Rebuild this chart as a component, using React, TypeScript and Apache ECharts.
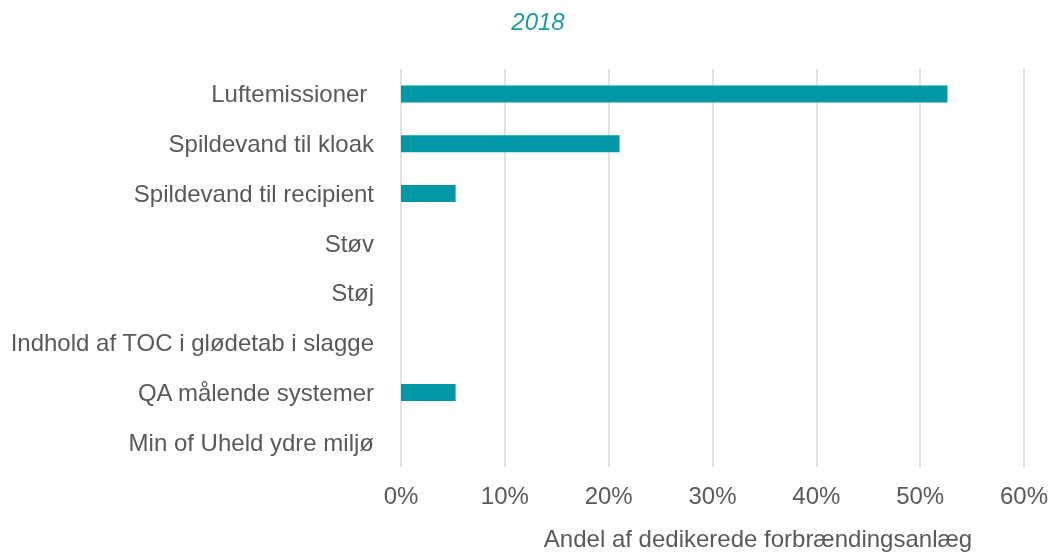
import React, { useEffect, useRef } from "react";
import * as echarts from "echarts";

const categories = [
  "Luftemissioner ",
  "Spildevand til kloak",
  "Spildevand til recipient",
  "Støv",
  "Støj",
  "Indhold af TOC i glødetab i slagge",
  "QA målende systemer",
  "Min of Uheld ydre miljø",
];
const values = [52.63, 21.05, 5.26, 0, 0, 0, 5.26, 0];
const titleText = "2018";
const axisName = "Andel af dedikerede forbrændingsanlæg";

export default function App() {
  const ref = useRef<HTMLDivElement>(null);
  useEffect(() => {
    if (!ref.current) return;
    const chart = echarts.init(ref.current, undefined, { renderer: "svg" });
    const font = "'Liberation Sans', Arial, sans-serif";
    chart.setOption({
      animation: false,
      title: {
        text: titleText,
        left: 533,
        top: 4,
        textAlign: "center",
        textStyle: {
          color: "#1a9ba8",
          fontStyle: "italic",
          fontWeight: "normal",
          fontSize: 24,
          fontFamily: font,
        },
      },
      grid: { left: 401, right: 28, top: 69, bottom: 85, containLabel: false },
      xAxis: {
        type: "value",
        min: 0,
        max: 60,
        interval: 10,
        axisLine: { show: false },
        axisTick: { show: false },
        axisLabel: {
          formatter: "{value}%",
          color: "#595959",
          fontSize: 24,
          fontFamily: font,
          margin: 16,
        },
        splitLine: { show: true, lineStyle: { color: "#d9d9d9", width: 1.5 } },
      },
      yAxis: {
        type: "category",
        data: categories,
        inverse: true,
        axisLine: { show: false },
        axisTick: { show: false },
        axisLabel: {
          color: "#595959",
          fontSize: 24,
          fontFamily: font,
          margin: 27,
        },
      },
      graphic: [
        {
          type: "text",
          x: 758,
          y: 538,
          style: {
            text: axisName,
            fill: "#595959",
            fontSize: 24,
            fontFamily: font,
            textAlign: "center",
            textVerticalAlign: "middle",
          },
        },
      ],
      series: [
        {
          type: "bar",
          data: values,
          barWidth: 17,
          itemStyle: { color: "#0097a7" },
        },
      ],
    });
    return () => chart.dispose();
  }, []);
  return <div ref={ref} style={{ width: 1052, height: 552, position: "fixed", left: 0, top: 0 }} />;
}
